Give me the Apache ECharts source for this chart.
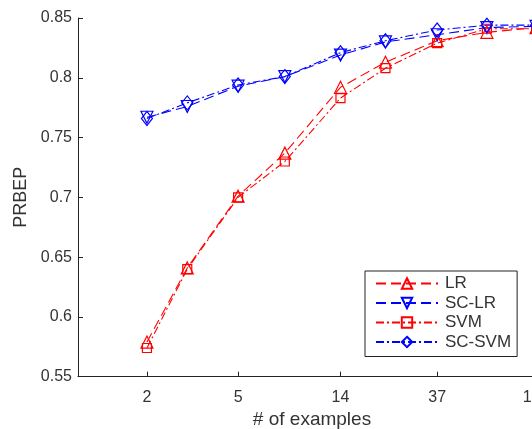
<!DOCTYPE html>
<html>
<head>
<meta charset="utf-8">
<script src="https://cdn.jsdelivr.net/npm/echarts@6/dist/echarts.min.js"></script>
<style>html,body{margin:0;padding:0;background:#fff}#c{width:532px;height:429px}</style>
</head>
<body>
<div id="c"></div>
<script>
var examples = [2, 3, 5, 8, 14, 22, 37, 61, 100];
var xTicks = [2, 5, 14, 37, 100];
var yTicks = [0.55, 0.6, 0.65, 0.7, 0.75, 0.8, 0.85];
var LR     = [0.579, 0.641, 0.701, 0.737, 0.792, 0.813, 0.831, 0.838, 0.842];
var SC_LR  = [0.767, 0.776, 0.793, 0.801, 0.819, 0.830, 0.836, 0.842, 0.843];
var SVM    = [0.574, 0.640, 0.700, 0.730, 0.783, 0.808, 0.829, 0.841, 0.841];
var SC_SVM = [0.766, 0.779, 0.794, 0.801, 0.821, 0.831, 0.840, 0.844, 0.844];

function pairs(v){ return examples.map(function(x,i){ return [x, v[i]]; }); }
var RED = '#ff0000', BLUE = '#0000ff';
var DASH = [10, 5], DASHDOT = [8, 3, 2, 3];
function mk(name, data, color, dash, symbol, size, rot){
  return {
    name: name, type: 'line', data: pairs(data),
    symbol: symbol, symbolSize: size, symbolRotate: rot || 0,
    lineStyle: {color: color, width: 1.1, type: dash},
    itemStyle: {color: 'rgba(255,255,255,0)', borderColor: color, borderWidth: 1.2},
    emphasis: {disabled: true}, animation: false
  };
}
var chart = echarts.init(document.getElementById('c'));
chart.setOption({
  animation: false,
  textStyle: {fontFamily: 'Liberation Sans, Arial, sans-serif'},
  grid: {left: 78, top: 18, width: 527, height: 358.7, containLabel: false, outerBoundsMode: 'none'},
  xAxis: {
    type: 'log', logBase: 10, min: 1, max: 200,
    name: '# of examples', nameLocation: 'middle', nameGap: 32,
    nameTextStyle: {fontSize: 19, color: '#333', padding: [0, 0, 0, -59]},
    axisLine: {lineStyle: {color: '#222', width: 1}},
    axisTick: {inside: true, length: 5, customValues: xTicks, lineStyle: {color: '#222'}},
    axisLabel: {customValues: xTicks, fontSize: 16, color: '#333', margin: 13,
                formatter: function(v){ return String(Math.round(v)); }},
    splitLine: {show: false}, minorTick: {show: false}
  },
  yAxis: {
    type: 'value', min: 0.55, max: 0.85, interval: 0.05,
    name: 'PRBEP', nameLocation: 'middle', nameGap: 47,
    nameTextStyle: {fontSize: 18, color: '#333'},
    axisLine: {show: true, lineStyle: {color: '#222', width: 1}},
    axisTick: {show: true, inside: true, length: 5, lineStyle: {color: '#222'}},
    axisLabel: {fontSize: 16, color: '#333', margin: 6,
                formatter: function(v){ var t = yTicks.find(function(y){ return Math.abs(y - v) < 1e-6; }); return t === undefined ? '' : String(t); }},
    splitLine: {show: false}
  },
  legend: {
    orient: 'vertical', left: 365, top: 271,
    backgroundColor: '#fff', borderColor: '#222', borderWidth: 1,
    padding: [4, 6, 6, 10], itemGap: 2.5, itemWidth: 62, itemHeight: 13,
    textStyle: {fontSize: 17, color: '#333', padding: [0, 0, 0, 2]},
    data: ['LR', 'SC-LR', 'SVM', 'SC-SVM']
  },
  series: [
    mk('LR', LR, RED, DASH, 'triangle', 12),
    mk('SC-LR', SC_LR, BLUE, DASH, 'triangle', 12, 180),
    mk('SVM', SVM, RED, DASHDOT, 'rect', 9),
    mk('SC-SVM', SC_SVM, BLUE, DASHDOT, 'diamond', [11, 14])
  ]
});
</script>
</body>
</html>
